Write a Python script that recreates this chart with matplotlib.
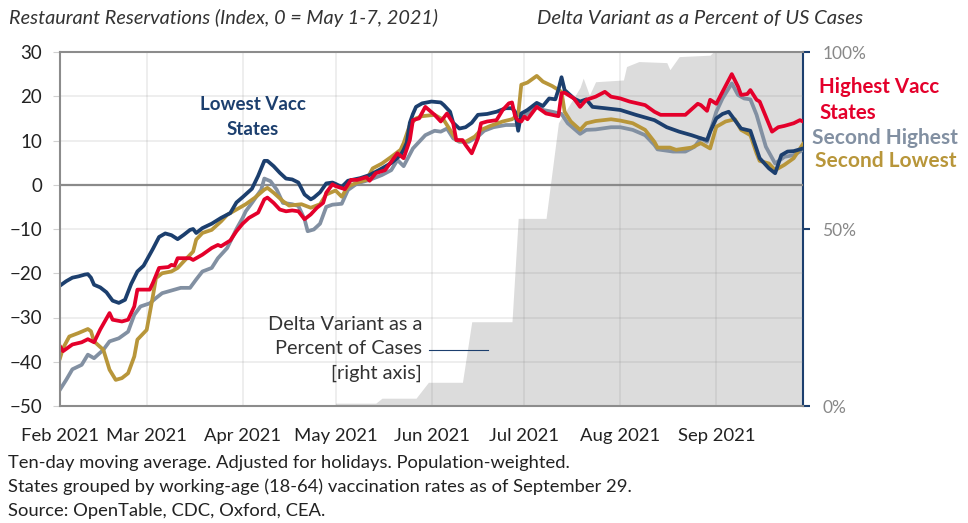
import numpy as np
import matplotlib
matplotlib.use("Agg")
import matplotlib.pyplot as plt
import matplotlib.dates as mdates
from matplotlib.lines import Line2D

plt.rcParams['font.family'] = ['Lato', 'DejaVu Sans']

# day offsets from Feb 1, 2021 and index values
low_days = [0, 2, 4, 6, 8, 9, 10, 11, 13, 15, 17, 19, 21, 23, 25, 27, 30, 32, 34, 36, 38, 40, 42, 43, 44, 46,
            49, 52, 55, 57, 59, 62, 64, 66, 67, 69, 71, 73, 75, 77, 79, 81, 82, 84, 86, 88, 89, 91, 93, 95, 97,
            100, 103, 107, 110, 111, 112, 113, 114, 115, 117, 120, 123, 124, 126, 127, 129, 131, 133, 135, 138,
            141, 144, 146, 147, 148, 149, 151, 154, 156, 158, 160, 161, 162, 163, 166, 168, 170, 172, 176, 181,
            186, 192, 196, 200, 204, 207, 209, 210, 212, 214, 216, 218, 220, 223, 226, 229, 231, 233, 235, 237, 240]
low_vals = [-22.8, -21.8, -21.0, -20.7, -20.3, -20.2, -21.0, -22.6, -23.2, -24.3, -26.2, -26.7, -26.0, -22.4,
            -19.6, -18.3, -14.5, -11.8, -11.0, -11.4, -12.3, -11.3, -10.2, -10.0, -10.9, -9.8, -8.8, -7.5, -6.4,
            -4.0, -2.8, -0.9, 2.0, 5.4, 5.4, 4.2, 2.7, 1.4, 1.2, 0.5, -2.2, -3.3, -2.9, -1.7, 0.3, 0.5, 0.2, -0.5,
            0.9, 1.2, 1.5, 2.2, 3.3, 4.9, 6.7, 7.9, 9.5, 14.0, 16.0, 17.6, 18.4, 18.8, 18.6, 18.0, 16.5, 14.0,
            12.7, 13.0, 14.0, 15.8, 16.0, 16.5, 17.3, 17.3, 16.5, 12.2, 16.1, 16.9, 18.5, 17.8, 19.5, 19.3, 21.5,
            24.3, 21.4, 19.5, 18.8, 19.3, 17.6, 17.3, 16.9, 15.8, 14.6, 13.0, 12.0, 11.2, 10.5, 10.1, 12.0, 15.0,
            16.0, 16.5, 14.6, 12.7, 12.2, 6.0, 3.7, 2.6, 6.7, 7.5, 7.6, 8.2]

high_days = [0, 1, 4, 7, 9, 11, 13, 16, 17, 20, 22, 24, 25, 29, 30, 32, 35, 36, 37, 38, 42, 43, 46, 49, 51, 52,
             55, 57, 59, 61, 64, 66, 67, 69, 71, 73, 75, 77, 79, 81, 83, 85, 86, 88, 89, 92, 94, 96, 99, 100, 102,
             105, 107, 109, 111, 113, 114, 116, 118, 121, 123, 125, 127, 128, 130, 131, 133, 135, 136, 138, 141,
             143, 145, 146, 147, 148, 149, 150, 151, 154, 157, 161, 162, 163, 166, 168, 170, 173, 176, 178, 181,
             184, 189, 192, 194, 198, 202, 206, 207, 209, 210, 212, 214, 217, 219, 220, 222, 223, 225, 226, 228,
             230, 232, 234, 237, 239, 240]
high_vals = [-36.5, -37.6, -36.1, -35.6, -34.9, -35.6, -32.7, -29.0, -30.5, -30.9, -30.5, -27.5, -23.7, -23.7,
             -22.2, -18.8, -18.6, -18.1, -18.3, -16.6, -16.6, -17.0, -15.8, -14.3, -13.6, -13.9, -12.6, -10.5,
             -8.8, -7.5, -6.3, -3.3, -2.9, -4.1, -5.6, -6.0, -5.8, -6.0, -7.8, -6.7, -5.2, -4.1, -1.8, 0.1, -0.3,
             -1.0, 1.1, 1.1, 1.7, 0.9, 2.6, 3.3, 5.2, 7.1, 6.0, 10.1, 14.6, 15.0, 17.6, 15.8, 14.3, 16.1, 13.9,
             10.1, 10.1, 9.0, 7.1, 10.5, 13.9, 14.3, 14.6, 16.9, 18.4, 18.6, 15.5, 14.5, 14.3, 15.4, 14.8, 17.6,
             16.1, 15.5, 20.7, 20.8, 19.5, 17.6, 19.2, 19.9, 21.0, 19.9, 19.5, 18.8, 18.0, 16.5, 15.8, 15.8, 15.8,
             18.3, 18.0, 16.7, 19.2, 18.3, 21.0, 25.0, 22.2, 20.3, 20.5, 21.4, 19.2, 18.8, 15.4, 12.0, 13.0, 13.3,
             13.9, 14.6, 14.3]

second_low_days = [0, 1, 3, 6, 9, 10, 11, 14, 16, 18, 20, 22, 24, 25, 28, 30, 31, 33, 36, 38, 40, 43, 44, 46,
                   49, 52, 54, 57, 60, 63, 66, 67, 69, 72, 74, 78, 81, 84, 86, 89, 91, 93, 96, 99, 101, 104, 107,
                   110, 111, 113, 115, 117, 121, 124, 126, 128, 131, 134, 136, 139, 143, 146, 148, 149, 151, 154,
                   156, 159, 162, 163, 165, 168, 170, 173, 178, 181, 185, 189, 192, 193, 197, 199, 204, 207, 210,
                   212, 215, 218, 220, 223, 225, 226, 229, 231, 234, 237, 240]
second_low_vals = [-39.2, -36.9, -34.3, -33.5, -32.6, -33.1, -35.4, -37.3, -41.8, -44.1, -43.7, -42.6, -38.8,
                   -35.0, -32.8, -25.2, -21.1, -20.0, -19.6, -18.8, -17.3, -15.1, -12.4, -10.9, -10.2, -8.3, -6.8,
                   -5.6, -4.4, -2.9, -1.1, -0.7, -1.8, -3.7, -4.7, -4.4, -5.2, -4.4, -2.2, -1.3, -2.7, -0.4, 0.5,
                   1.1, 3.7, 4.8, 6.3, 7.9, 9.4, 13.5, 15.0, 15.5, 15.8, 14.6, 12.4, 10.1, 9.7, 10.9, 12.4, 13.3,
                   14.3, 14.8, 15.8, 22.6, 23.1, 24.6, 23.3, 22.3, 21.0, 16.5, 14.3, 12.4, 13.9, 14.4, 14.8, 14.5,
                   13.9, 12.4, 9.7, 8.4, 8.4, 7.9, 8.4, 9.4, 8.2, 13.1, 14.3, 14.8, 12.4, 11.2, 7.1, 5.4, 4.8, 3.3,
                   4.5, 6.0, 9.2]

second_high_days = [0, 2, 4, 7, 9, 11, 14, 16, 19, 22, 24, 26, 29, 31, 33, 36, 37, 39, 42, 44, 46, 49, 51, 54,
                    57, 59, 60, 62, 65, 66, 68, 70, 72, 75, 77, 79, 80, 82, 84, 86, 88, 91, 93, 96, 100, 104, 107,
                    109, 111, 114, 116, 118, 121, 123, 125, 127, 129, 132, 135, 137, 140, 144, 148, 149, 151, 154,
                    156, 159, 162, 164, 166, 168, 170, 173, 178, 181, 185, 189, 192, 193, 198, 202, 205, 207, 209,
                    212, 214, 217, 219, 221, 223, 225, 228, 231, 234, 237, 240]
second_high_vals = [-46.3, -44.1, -41.7, -40.7, -38.4, -39.2, -37.3, -35.4, -34.7, -33.2, -29.4, -27.5, -26.8,
                    -25.6, -24.5, -23.9, -23.7, -23.3, -23.3, -21.4, -19.6, -18.8, -16.6, -14.3, -10.0, -7.5, -6.0,
                    -4.1, -1.1, 1.4, 0.8, -1.1, -4.1, -4.4, -4.8, -7.8, -10.5, -10.1, -8.8, -5.0, -4.5, -4.3, -1.2,
                    0.3, 1.1, 2.2, 3.3, 5.6, 4.2, 8.2, 9.7, 11.2, 12.2, 12.0, 12.7, 10.5, 9.7, 9.7, 10.9, 12.2, 13.0,
                    13.5, 13.5, 15.0, 16.1, 18.0, 16.9, 16.5, 16.0, 13.9, 12.7, 11.5, 12.4, 12.5, 13.0, 13.0, 12.4,
                    11.2, 9.0, 8.0, 7.5, 7.5, 8.6, 10.5, 9.7, 16.5, 19.5, 22.9, 20.3, 19.5, 19.3, 15.8, 8.6, 4.8,
                    6.3, 6.7, 7.9]

# Delta variant share of US cases (%)
delta_days = [89, 102, 104, 115, 119, 130, 133, 146, 148, 157, 161, 168, 169, 171, 173, 182, 183, 187, 196, 197,
              200, 210, 211, 240]
delta_pct = [0.8, 0.8, 2.2, 2.2, 6.7, 6.7, 23.8, 23.8, 53.0, 53.0, 80.0, 90.0, 92.6, 87.8, 91.6, 92.1, 95.9,
             97.3, 97.0, 95.0, 98.7, 99.1, 100.0, 100.0]

base = np.datetime64('2021-02-01')


def to_dates(days):
    return base + np.array(days).astype('timedelta64[D]')


W, H = 968, 523
fig = plt.figure(figsize=(W / 100, H / 100), dpi=100)


def fx(px):
    return px / W


def fy(py):
    return 1 - py / H


ax = fig.add_axes([fx(60), fy(406), fx(803) - fx(60), fy(52) - fy(406)])
ax2 = ax.twinx()
ax.set_zorder(ax2.get_zorder() + 1)
ax.patch.set_visible(False)

ax2.fill_between(to_dates(delta_days), 0, delta_pct, color='#dcdcdc', lw=0)
ax2.set_ylim(0, 100)
ax2.set_yticks([0, 50, 100])
ax2.set_yticklabels(['0%', '50%', '100%'])

navy = '#1c3f6e'
red = '#e4002b'
grey = '#8290a2'
gold = '#b8963a'

ax.plot(to_dates(second_high_days), second_high_vals, color=grey, lw=2.7, solid_joinstyle='round')
ax.plot(to_dates(second_low_days), second_low_vals, color=gold, lw=2.7, solid_joinstyle='round')
ax.plot(to_dates(low_days), low_vals, color=navy, lw=2.7, solid_joinstyle='round')
ax.plot(to_dates(high_days), high_vals, color=red, lw=2.7, solid_joinstyle='round')

ax.set_ylim(-50, 30)
ax.set_yticks(range(-50, 31, 10))
ax.set_xlim(base, base + np.timedelta64(240, 'D'))
months = [np.datetime64('2021-%02d-01' % m) for m in range(2, 10)]
ax.set_xticks(months)
ax.xaxis.set_major_formatter(mdates.DateFormatter('%b %Y'))

ax.grid(True, color=(0.5, 0.5, 0.5), alpha=0.15, lw=1.3)
ax.axhline(0, color='#8c8c8c', lw=1.6, zorder=1)

for a in (ax, ax2):
    for s in a.spines.values():
        s.set_visible(False)
for side in ('left', 'top', 'bottom'):
    ax.spines[side].set_visible(True)
    ax.spines[side].set_color('#8c8c8c')
    ax.spines[side].set_linewidth(1.5)
ax2.spines['right'].set_visible(True)
ax2.spines['right'].set_color(navy)
ax2.spines['right'].set_linewidth(1.5)

ax.tick_params(axis='y', length=5, color='#d0d0d0', pad=8, labelsize=13.5, labelcolor='#222222')
ax.tick_params(axis='x', length=0, pad=16, labelsize=13.3, labelcolor='#222222')
ax2.tick_params(axis='y', length=5, width=1.5, color=navy, pad=9, labelsize=12.5, labelcolor='#888888')

# titles
fig.text(fx(9), fy(18), 'Restaurant Reservations (Index, 0 = May 1-7, 2021)', style='italic',
         fontsize=14.3, color='#333333', va='center', ha='left')
fig.text(fx(700), fy(18), 'Delta Variant as a Percent of US Cases', style='italic',
         fontsize=14.6, color='#333333', va='center', ha='center')

# series labels
fig.text(fx(253), fy(117), 'Lowest Vacc\nStates', color=navy, fontsize=13.5, fontweight='bold',
         ha='center', va='center', linespacing=1.55)
fig.text(fx(819), fy(100), 'Highest Vacc\nStates', color=red, fontsize=14.8, fontweight='bold',
         ha='left', va='center', linespacing=1.4)
fig.text(fx(812), fy(138), 'Second Highest', color=grey, fontsize=15, fontweight='bold',
         ha='left', va='center')
fig.text(fx(815), fy(161), 'Second Lowest', color=gold, fontsize=15, fontweight='bold',
         ha='left', va='center')

fig.text(fx(422), fy(349), 'Delta Variant as a\nPercent of Cases\n[right axis]', color='#333333',
         fontsize=14.3, ha='right', va='center', linespacing=1.5)
fig.add_artist(Line2D([fx(429), fx(488)], [fy(350), fy(350)], color=navy, lw=0.8))

# notes
notes = ['Ten-day moving average. Adjusted for holidays. Population-weighted.',
         'States grouped by working-age (18-64) vaccination rates as of September 29.',
         'Source: OpenTable, CDC, Oxford, CEA.']
for i, t in enumerate(notes):
    fig.text(fx(8), fy(463 + 24 * i), t, fontsize=13.2, color='#222222', ha='left', va='center')

fig.savefig('out.png', dpi=100)
